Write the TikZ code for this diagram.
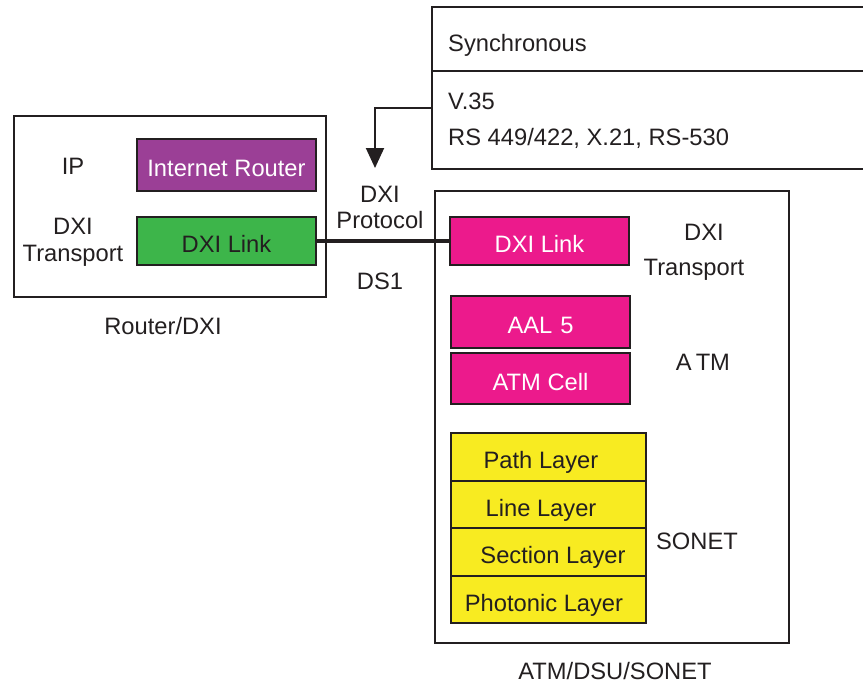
\documentclass[tikz,border=0pt]{standalone}
\usepackage{fontspec}
\setmainfont{Liberation Sans}
\usetikzlibrary{arrows.meta}
\definecolor{routerpurple}{HTML}{9B3F96}
\definecolor{linkgreen}{HTML}{3DB54A}
\definecolor{atmpink}{HTML}{EC1A8C}
\definecolor{sonetyellow}{HTML}{F8EB21}
\definecolor{ink}{HTML}{231F20}
\begin{document}
\begin{tikzpicture}[x=0.02cm,y=-0.02cm,
    every node/.style={font=\fontsize{13.5}{15.3}\selectfont,text=ink},
    frame/.style={draw=ink,line width=1.1pt},
    layer/.style={draw=ink,line width=1.1pt,minimum width=3.58cm,inner sep=0pt,text height=13.2pt,text depth=0pt},
    sonetlayer/.style={draw=ink,line width=1.1pt,fill=sonetyellow,minimum width=3.9cm,minimum height=0.95cm,inner sep=0pt,text height=13.2pt,text depth=0pt}]
    \useasboundingbox (0,0) rectangle (863,683);
    % synchronous interface panel
    \draw[frame] (863,7)--(432,7)--(432,169)--(863,169);
    \draw[frame] (432,71)--(863,71);
    \coordinate (syncin) at (432,108);
    \coordinate (arrowtip) at (375,168);
    \node[anchor=west] (sync) at (442,45) {Synchronous};
    \node[anchor=west] (v35) at (442,101) {V.35};
    \node[anchor=west] (rs) at (442,138) {RS 449/422, X.21, RS-530};
    % Router/DXI
    \draw[frame] (14,116) rectangle (326,297);
    \node[layer,fill=routerpurple,minimum height=1.04cm,text=white] (router) at (226.5,165) {Internet Router};
    \node[layer,fill=linkgreen,minimum height=0.96cm] (dxig) at (226.5,241) {DXI Link};
    \node (ip) at (73,166) {IP};
    \node[align=center] (tleft) at (73,242.5) {DXI\\Transport};
    \node (rlabel) at (163,326) {Router/DXI};
    % ATM/DSU/SONET
    \draw[frame] (435,191) rectangle (789,643);
    \node[layer,fill=atmpink,minimum height=0.96cm,text=white] (dxip) at (539.5,241) {DXI Link};
    \node[layer,fill=atmpink,minimum height=1.04cm,text=white] (aal) at (540.5,322) {AAL\,\,5};
    \node[layer,fill=atmpink,minimum height=1.02cm,text=white] (cell) at (540.5,378.5) {ATM Cell};
    \node[sonetlayer] (path) at (548.5,457) {\hspace*{-0.3cm}Path Layer};
    \node[sonetlayer] (line) at (548.5,504.5) {\hspace*{-0.3cm}Line Layer};
    \node[sonetlayer] (section) at (548.5,552) {\hspace*{0.18cm}Section Layer};
    \node[sonetlayer] (photonic) at (548.5,599.5) {\hspace*{-0.18cm}Photonic Layer};
    \node[align=center,font=\fontsize{13.5}{19.8}\selectfont] (tright) at (694,252) {\hspace*{0.4cm}DXI\\Transport};
    \node (atm) at (703,362) {A\,TM};
    \node (sonet) at (697,541) {SONET};
    \node (alabel) at (615,671) {ATM/DSU/SONET};
    % link between the boxes
    \draw[ink,line width=2.3pt] (dxig.east) -- (dxip.west);
    \node[align=center] (proto) at (380,207.5) {DXI\\Protocol};
    \node (ds1) at (380,281) {DS1};
    \draw[ink,line width=1.1pt,-{Triangle[width=0.36cm,length=0.4cm]}] (syncin) -| (arrowtip);
\end{tikzpicture}
\end{document}
